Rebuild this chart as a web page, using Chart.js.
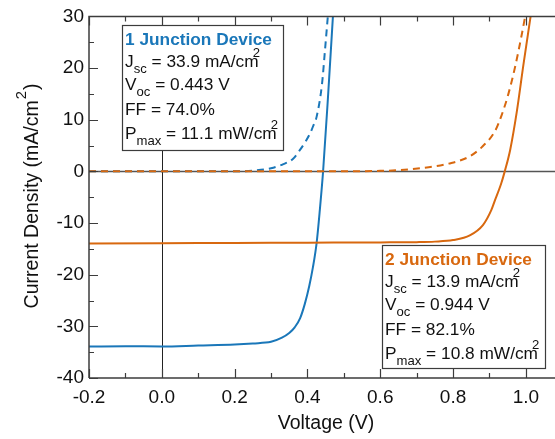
<!DOCTYPE html>
<html>
<head>
<meta charset="utf-8">
<script src="https://cdn.jsdelivr.net/npm/chart.js@4.4.1/dist/chart.umd.min.js"></script>
<style>
  html, body { margin: 0; padding: 0; background: #fff; }
</style>
</head>
<body>
<canvas id="grafico-jv" width="555" height="439"></canvas>
<script>
// Curvas J-V: voltaje (V) y densidad de corriente (mA/cm2)
const v1Luz = [-0.2, -0.1, 0, 0.1, 0.2, 0.25, 0.3, 0.33, 0.35, 0.365, 0.38, 0.393, 0.405, 0.415, 0.425, 0.434, 0.443, 0.457, 0.47];
const j1Luz = [-33.9, -33.85, -33.9, -33.7, -33.5, -33.3, -33.0, -32.2, -31.3, -30.2, -28.4, -25.6, -22.2, -18.6, -14.0, -7.5, 0, 15, 30];

const v1Osc = [-0.2, 0.2, 0.26, 0.3, 0.334, 0.36, 0.379, 0.395, 0.407, 0.417, 0.425, 0.44, 0.448, 0.456];
const j1Osc = [0, 0, 0.2, 0.6, 1.4, 2.4, 4.1, 5.8, 7.3, 9, 10.5, 16.9, 23.3, 30];

const v2Luz = [-0.2, 0, 0.2, 0.4, 0.6, 0.7, 0.75, 0.8, 0.846, 0.882, 0.905, 0.914, 0.932, 0.942, 0.957, 0.975, 0.993, 1.013];
const j2Luz = [-13.95, -13.9, -13.85, -13.8, -13.75, -13.7, -13.6, -13.3, -12.4, -10.4, -7.5, -5.8, -2.4, 0, 4.2, 11.5, 20.5, 30];

const v2Osc = [-0.2, 0.5, 0.6, 0.642, 0.733, 0.788, 0.843, 0.879, 0.916, 0.934, 0.952, 0.97, 0.989, 0.998];
const j2Osc = [0, 0, 0.1, 0.2, 0.8, 1.5, 2.8, 4.7, 7.9, 11.0, 15, 20.1, 26.6, 30];

// Marcas de los ejes
const xTicks = [-0.2, 0, 0.2, 0.4, 0.6, 0.8, 1.0];
const yTicks = [-40, -30, -20, -10, 0, 10, 20, 30];

// Parametros de cada dispositivo: Jsc, Voc, FF, Pmax
const titulo1 = "1 Junction Device";
const stats1 = ["33.9", "0.443", "74.0", "11.1"];
const titulo2 = "2 Junction Device";
const stats2 = ["13.9", "0.944", "82.1", "10.8"];

const fuente = '"Liberation Sans", Arial, Helvetica, sans-serif';
const azul = "#1a77b9";
const naranja = "#d8680f";
const gris = "#3c3c3c";

function aPuntos(vs, js) {
  return vs.map((v, i) => ({ x: v, y: js[i] }));
}

function medios(ticks) {
  const res = [];
  for (let i = 0; i < ticks.length - 1; i++) res.push((ticks[i] + ticks[i + 1]) / 2);
  return res;
}

// dibuja texto con subindices / superindices
function partesAncho(ctx, partes, size) {
  let w = 0;
  for (const p of partes) {
    const fs = p.sub || p.sup ? size * 0.76 : size;
    ctx.font = `${p.bold ? "bold " : ""}${fs}px ${fuente}`;
    w += ctx.measureText(p.t).width + (p.dx || 0);
  }
  return w;
}

function textoRico(ctx, x, y, partes, size, color) {
  let cx = x;
  ctx.fillStyle = color;
  ctx.textBaseline = "alphabetic";
  ctx.textAlign = "left";
  for (const p of partes) {
    let fs = size;
    let dy = 0;
    if (p.sub) { fs = size * 0.76; dy = size * 0.35; }
    if (p.sup) { fs = size * 0.76; dy = -size * 0.6; }
    cx += p.dx || 0;
    ctx.font = `${p.bold ? "bold " : ""}${fs}px ${fuente}`;
    ctx.fillText(p.t, cx, y + dy);
    cx += ctx.measureText(p.t).width;
  }
}

function lineasCaja(titulo, stats) {
  return [
    [{ t: titulo, bold: true }],
    [{ t: "J" }, { t: "sc", sub: true }, { t: ` = ${stats[0]} mA/cm` }, { t: "2", sup: true, dx: -6 }],
    [{ t: "V" }, { t: "oc", sub: true }, { t: ` = ${stats[1]} V` }],
    [{ t: `FF = ${stats[2]}%` }],
    [{ t: "P" }, { t: "max", sub: true }, { t: ` = ${stats[3]} mW/cm` }, { t: "2", sup: true, dx: -6 }],
  ];
}

function dibujarCaja(ctx, x, y, w, h, titulo, stats, color) {
  ctx.fillStyle = "#fff";
  ctx.fillRect(x, y, w, h);
  ctx.strokeStyle = gris;
  ctx.lineWidth = 1.2;
  ctx.strokeRect(x + 0.5, y + 0.5, w, h);
  const bases = [20, 42, 65, 90, 114];
  lineasCaja(titulo, stats).forEach((partes, i) => {
    textoRico(ctx, x + 3, y + bases[i], partes, 17.3, i === 0 ? color : "#111");
  });
}

const plugMarco = {
  id: "marco",
  beforeDatasetsDraw(chart) {
    const { ctx, chartArea: a, scales: { x, y } } = chart;
    ctx.save();
    // linea de corriente cero
    const y0 = Math.round(y.getPixelForValue(0)) + 0.5;
    ctx.strokeStyle = "#555";
    ctx.lineWidth = 1.5;
    ctx.beginPath();
    ctx.moveTo(a.left, y0);
    ctx.lineTo(a.right, y0);
    ctx.stroke();
    // linea de voltaje cero
    const x0 = Math.round(x.getPixelForValue(0)) + 0.5;
    ctx.strokeStyle = "#222";
    ctx.lineWidth = 1;
    ctx.beginPath();
    ctx.moveTo(x0, a.top);
    ctx.lineTo(x0, a.bottom);
    ctx.stroke();
    ctx.restore();
  },
  afterDatasetsDraw(chart) {
    const { ctx, chartArea: a, scales: { x, y } } = chart;
    ctx.save();
    ctx.strokeStyle = gris;
    ctx.lineWidth = 1.5;
    ctx.beginPath();
    ctx.moveTo(a.left, a.bottom);
    ctx.lineTo(a.left, a.top);
    ctx.lineTo(a.right + 2, a.top);
    ctx.moveTo(a.left, a.bottom);
    ctx.lineTo(a.right + 2, a.bottom);
    ctx.stroke();

    ctx.lineWidth = 1.2;
    ctx.beginPath();
    const marcaX = (v, largo) => {
      const px = Math.round(x.getPixelForValue(v)) + 0.5;
      ctx.moveTo(px, a.bottom);
      ctx.lineTo(px, a.bottom - largo);
      ctx.moveTo(px, a.top);
      ctx.lineTo(px, a.top + largo);
    };
    const marcaY = (v, largo) => {
      const py = Math.round(y.getPixelForValue(v)) + 0.5;
      ctx.moveTo(a.left, py);
      ctx.lineTo(a.left + largo, py);
    };
    xTicks.forEach((v) => marcaX(v, 9));
    medios(xTicks).forEach((v) => marcaX(v, 5));
    yTicks.forEach((v) => marcaY(v, 9));
    medios(yTicks).forEach((v) => marcaY(v, 5));
    ctx.stroke();
    ctx.restore();
  },
  afterDraw(chart) {
    const { ctx } = chart;
    ctx.save();
    dibujarCaja(ctx, 122, 25, 161, 125, titulo1, stats1, azul);
    dibujarCaja(ctx, 382, 245, 163, 123, titulo2, stats2, naranja);

    // titulo eje x
    ctx.fillStyle = "#111";
    ctx.font = `19.5px ${fuente}`;
    ctx.textAlign = "center";
    ctx.textBaseline = "alphabetic";
    ctx.fillText("Voltage (V)", 326, 429);

    // titulo eje y (rotado)
    const partesY = [{ t: "Current Density (mA/cm" }, { t: "2", sup: true, dx: 1 }, { t: ")", dx: 1 }];
    ctx.translate(38, 196);
    ctx.rotate(-Math.PI / 2);
    const w = partesAncho(ctx, partesY, 19.5);
    textoRico(ctx, -w / 2, 0, partesY, 19.5, "#111");
    ctx.restore();
  },
};

const baseLinea = {
  pointRadius: 0,
  borderWidth: 2,
  fill: false,
  cubicInterpolationMode: "monotone",
  showLine: true,
};

new Chart(document.getElementById("grafico-jv"), {
  type: "scatter",
  data: {
    datasets: [
      { ...baseLinea, label: "2J oscuridad", data: aPuntos(v2Osc, j2Osc), borderColor: naranja, borderDash: [7, 5] },
      { ...baseLinea, label: "1J oscuridad", data: aPuntos(v1Osc, j1Osc), borderColor: azul, borderDash: [7, 5] },
      { ...baseLinea, label: "2J luz", data: aPuntos(v2Luz, j2Luz), borderColor: naranja },
      { ...baseLinea, label: "1J luz", data: aPuntos(v1Luz, j1Luz), borderColor: azul },
    ],
  },
  options: {
    responsive: false,
    animation: false,
    devicePixelRatio: 1,
    layout: { padding: { left: 0, right: 0, top: 15, bottom: 0 } },
    scales: {
      x: {
        type: "linear",
        min: -0.2,
        max: 1.08,
        grid: { display: false, drawTicks: false },
        border: { display: false },
        afterBuildTicks: (s) => { s.ticks = xTicks.map((v) => ({ value: v })); },
        afterFit: (s) => { s.height = 61; },
        ticks: {
          color: "#111",
          font: { family: fuente, size: 19 },
          padding: 8,
          maxRotation: 0,
          callback: (v) => v.toFixed(1),
        },
      },
      y: {
        type: "linear",
        min: -40,
        max: 30,
        grid: { display: false, drawTicks: false },
        border: { display: false },
        afterBuildTicks: (s) => { s.ticks = yTicks.map((v) => ({ value: v })); },
        afterFit: (s) => { s.width = 89; },
        ticks: {
          color: "#111",
          font: { family: fuente, size: 19 },
          padding: 5,
          callback: (v) => String(v),
        },
      },
    },
    plugins: {
      legend: { display: false },
      tooltip: { enabled: false },
    },
  },
  plugins: [plugMarco],
});
</script>
</body>
</html>
